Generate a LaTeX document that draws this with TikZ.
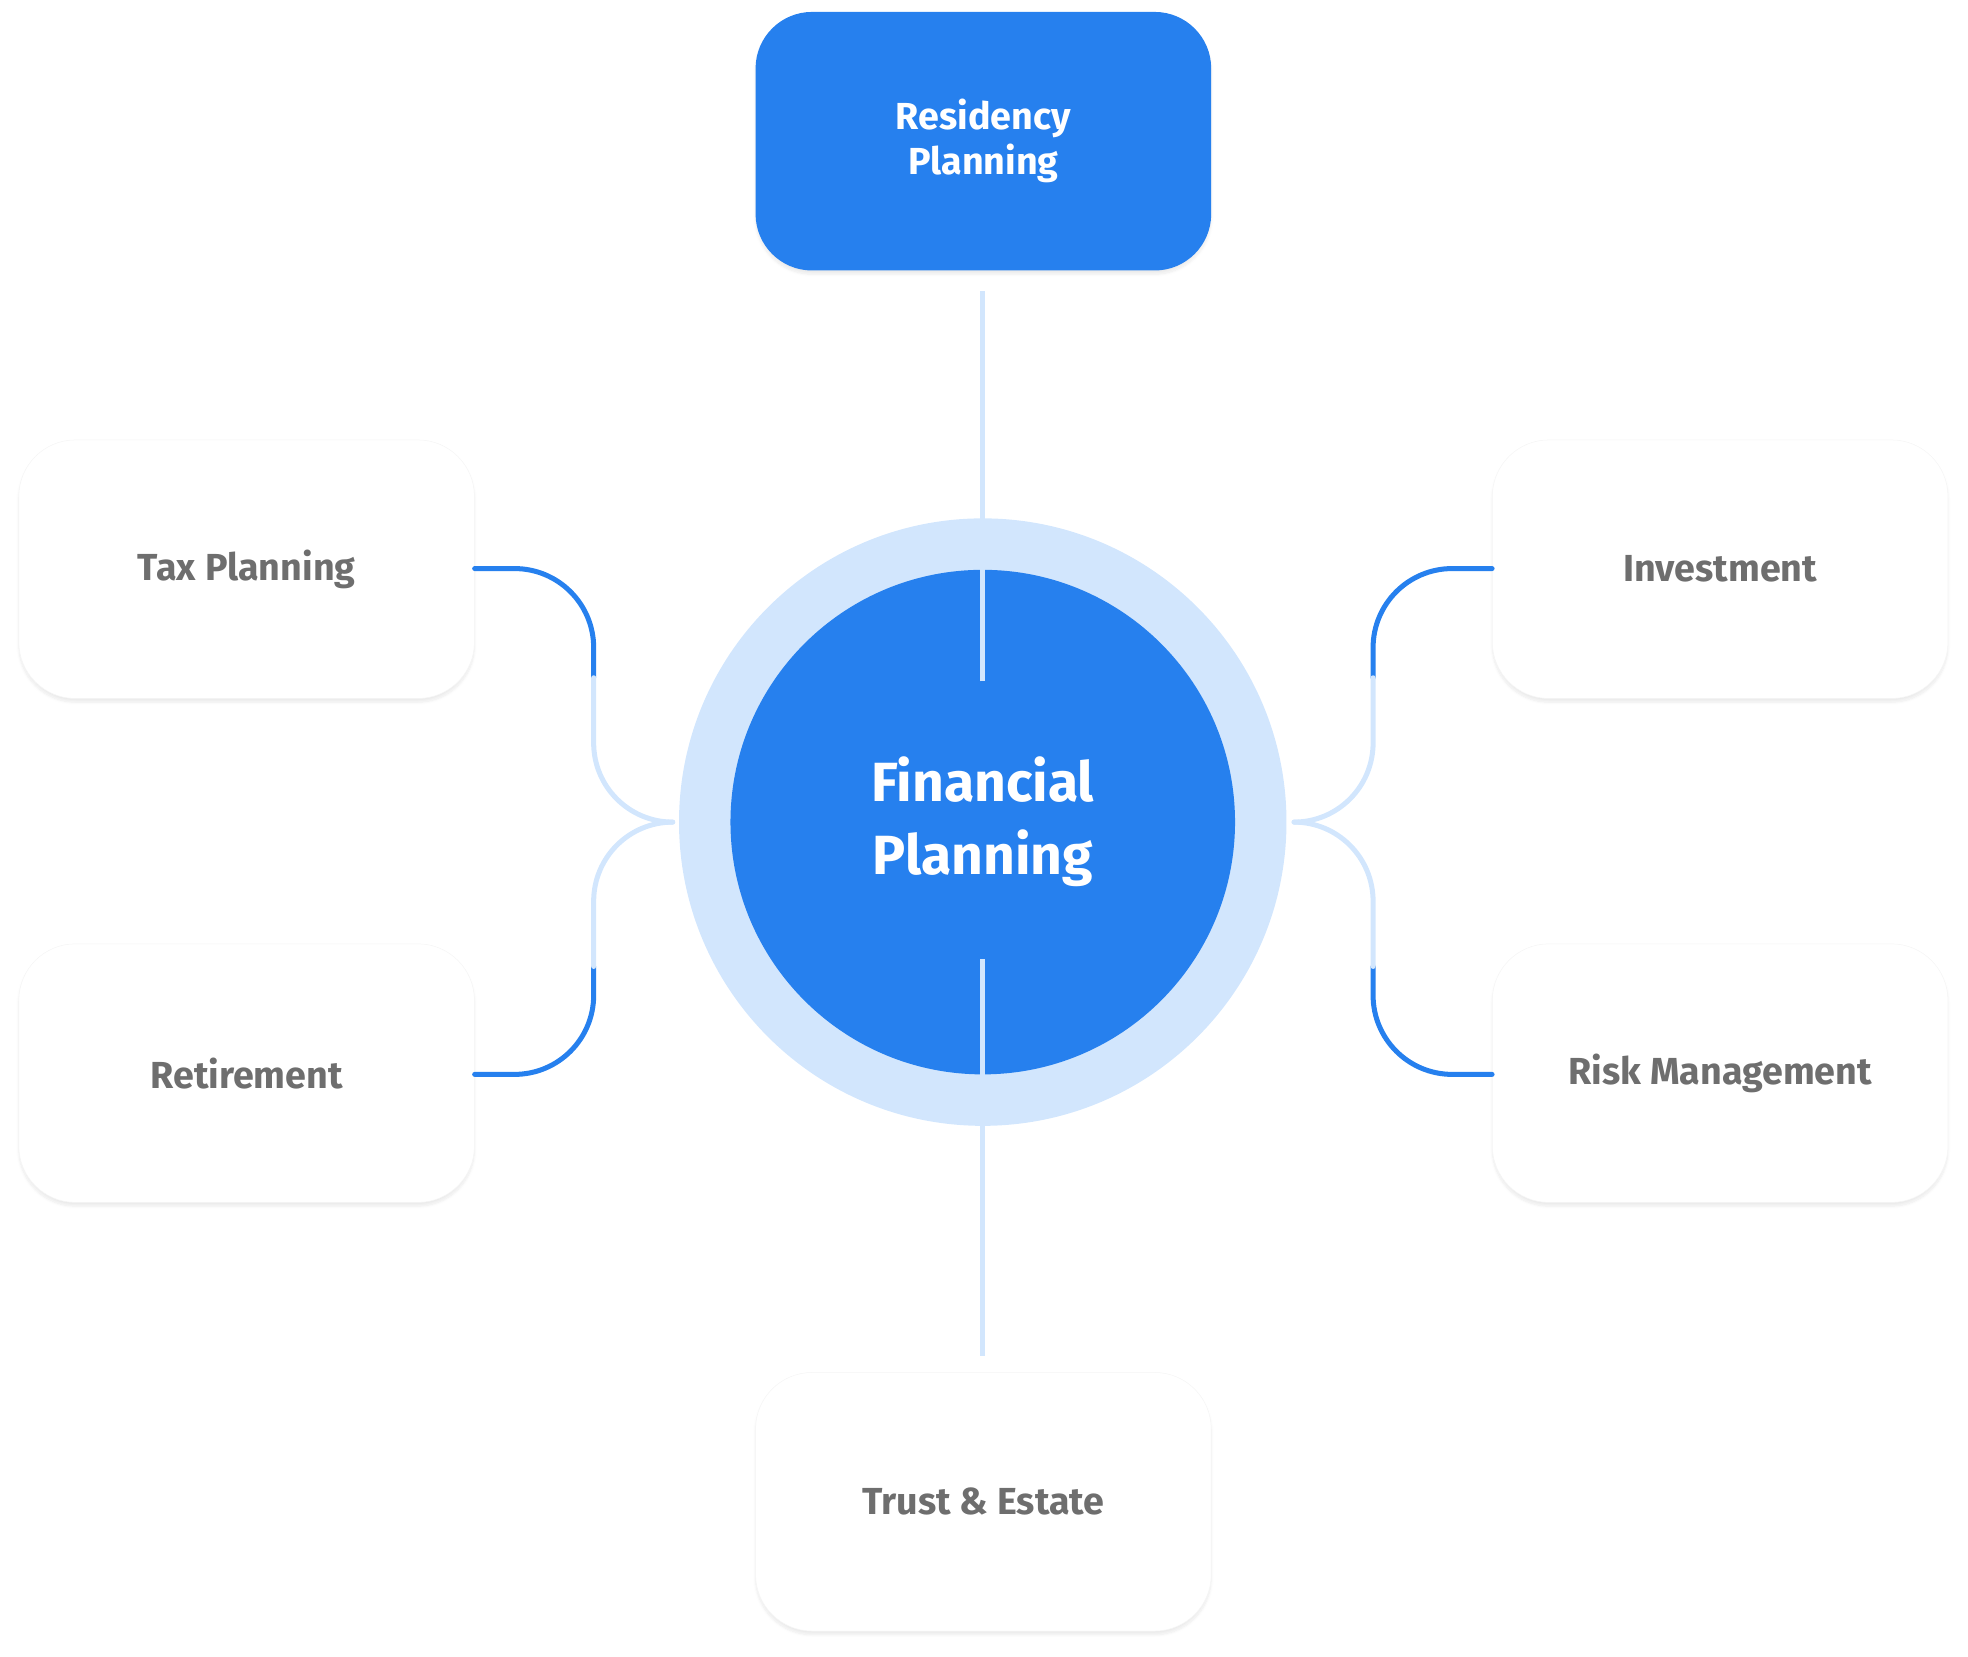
\documentclass[tikz,border=0pt]{standalone}
\usepackage{fontspec}
\setmainfont{Fira Sans}
\usetikzlibrary{shadows.blur}
\definecolor{fpblue}{HTML}{2680EE}
\definecolor{fplight}{HTML}{D2E6FD}
\definecolor{fpmid}{HTML}{A9CDF7}
\definecolor{fpgray}{HTML}{6E6E6E}
\begin{document}
\begin{tikzpicture}[x=1pt,y=-1pt,
  card/.style={draw=black!4,fill=white,rounded corners=45pt,minimum width=363pt,minimum height=206pt,
    blur shadow={shadow blur steps=8,shadow xshift=0pt,shadow yshift=-3pt,shadow opacity=8},
    font=\fontsize{30}{36}\selectfont\bfseries,text=fpgray,align=center},
  conn/.style={line width=4pt,rounded corners=63pt,line cap=round}]
\useasboundingbox (0,0) rectangle (1568,1320);
\node[card,fill=fpblue,draw=none,text=white] (res) at (783.5,112.5) {Residency\\Planning};
\node[card] (tax) at (196.5,453.5) {Tax Planning};
\node[card] (ret) at (196.5,855) {Retirement};
\node[card] (inv) at (1370.5,453.5) {Investment};
\node[card] (risk) at (1370.5,855) {Risk Management};
\node[card] (trust) at (783.5,1196.5) {Trust \& Estate};
\node[circle,fill=fplight,minimum size=484pt] (outer) at (783,655) {};
\node[circle,fill=fpblue,minimum size=402pt,text=white,font=\fontsize{44}{58}\selectfont\bfseries,align=center] (fp) at (783,655) {Financial\\Planning};
% vertical connectors
\draw[line width=4pt,fpblue] (outer.north) -- ++(0,-60);
\draw[line width=4pt,fpmid] ([yshift=-60pt]outer.north) -- ++(0,-70);
\draw[line width=4pt,fplight] ([yshift=-130pt]outer.north) -- (783,232);
\draw[line width=4pt,fpblue] ([yshift=3pt]outer.south) -- ++(0,60);
\draw[line width=4pt,fpmid] ([yshift=63pt]outer.south) -- ++(0,70);
\draw[line width=4pt,fplight] ([yshift=133pt]outer.south) -- (783,1080);
% left
\draw[conn,fpblue] (tax.east |- 0,453) -- (473,453) -- (473,540);
\draw[conn,fplight] (473,540) -- (473,655) -- (536,655);
\draw[conn,fpblue] (ret.east |- 0,856) -- (473,856) -- (473,770);
\draw[conn,fplight] (473,770) -- (473,655) -- (536,655);
% right
\draw[conn,fpblue] (inv.west |- 0,453) -- (1094,453) -- (1094,540);
\draw[conn,fplight] (1094,540) -- (1094,655) -- (1031,655);
\draw[conn,fpblue] (risk.west |- 0,856) -- (1094,856) -- (1094,770);
\draw[conn,fplight] (1094,770) -- (1094,655) -- (1031,655);
\end{tikzpicture}
\end{document}
